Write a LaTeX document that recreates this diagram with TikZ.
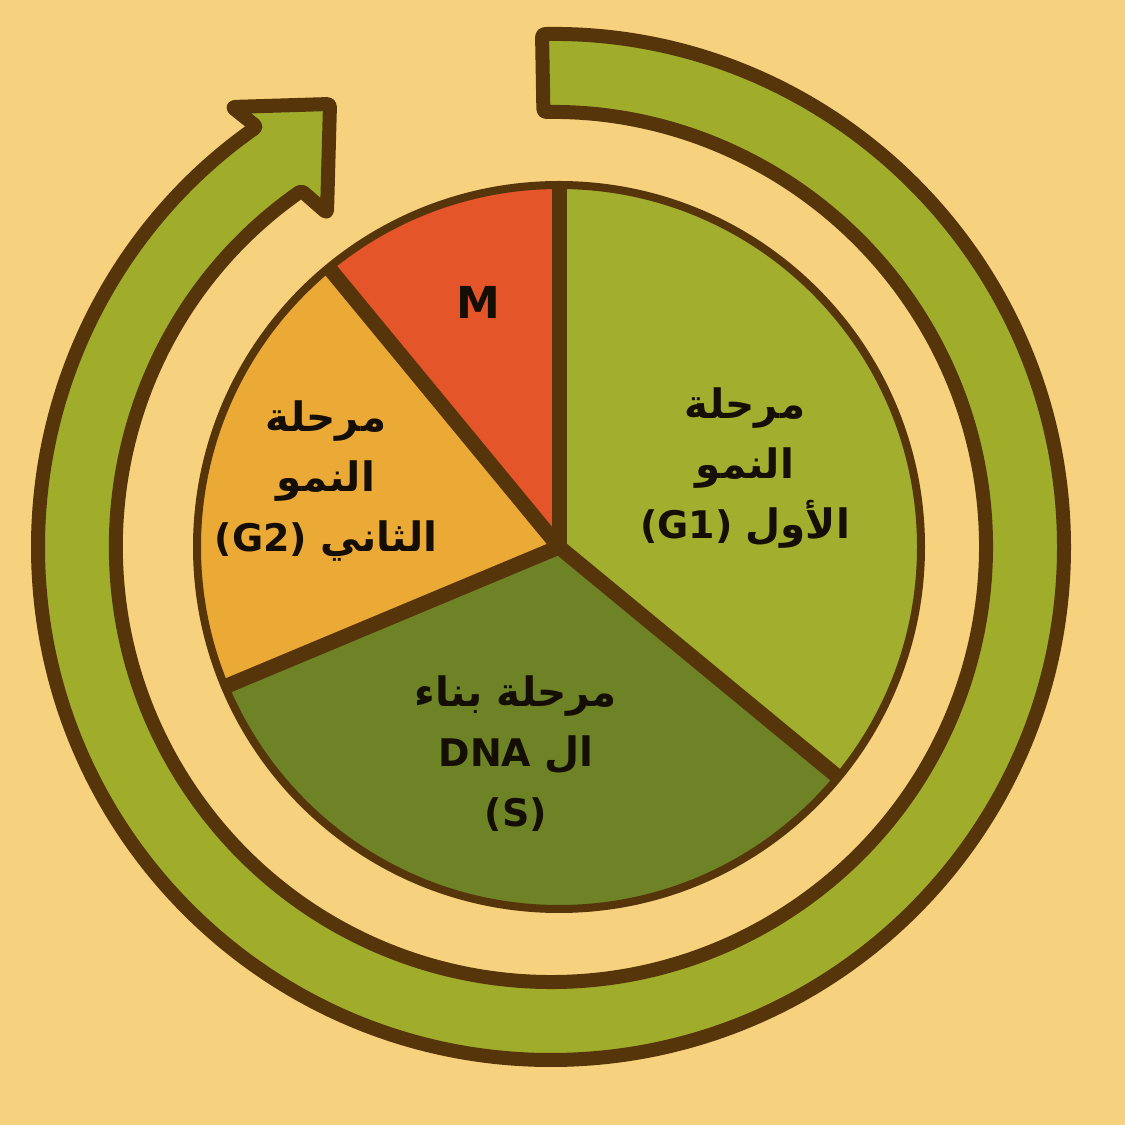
\documentclass[tikz,border=0pt]{standalone}
\usepackage{fontspec}
\TeXXeTstate=1
\setmainfont{DejaVu Sans}
\newfontfamily\arabicfont[Script=Arabic]{DejaVu Sans}
\usetikzlibrary{calc}
\definecolor{bgc}{HTML}{F7D27E}
\definecolor{ringg}{HTML}{A0AD2B}
\definecolor{gone}{HTML}{A2AE2D}
\definecolor{sdark}{HTML}{6D8325}
\definecolor{gtwo}{HTML}{EBAA35}
\definecolor{mred}{HTML}{E4552A}
\definecolor{outl}{HTML}{553509}
\definecolor{txt}{HTML}{140E05}
\newcommand{\arw}[1]{{\fontsize{40.5}{60}\selectfont\beginR #1\endR}}
\begin{document}
\begin{tikzpicture}[x=1pt,y=1pt,
  ringstyle/.style={fill=ringg,draw=outl,line width=14pt,line join=round,rounded corners=3pt},
  divline/.style={draw=outl,line width=15pt},
  pieedge/.style={draw=outl,line width=8pt},
  lbl/.style={text=txt,align=center,font=\arabicfont\bfseries\fontsize{38}{60}\selectfont,inner sep=0pt},
  mlbl/.style={text=txt,font=\bfseries\fontsize{44}{50}\selectfont,inner sep=0pt}]
\fill[bgc] (0,0) rectangle (1125,1125);
\useasboundingbox (0,0) rectangle (1125,1125);
% ring arrow
\coordinate (C) at (551,578);
\draw[ringstyle] ([shift={(91:513)}]C) arc[start angle=91,end angle=-235,radius=513]
  -- (232,1018) -- (330,1021) -- (327,912)
  -- ([shift={(125:435)}]C) arc[start angle=125,end angle=451,radius=435] -- cycle;
% pie
\coordinate (P) at (559,578);
\def\rp{362}
\fill[gone] (P) -- ([shift={(90:\rp)}]P) arc[start angle=90,end angle=-39.5,radius=\rp] -- cycle;
\fill[sdark] (P) -- ([shift={(-39.5:\rp)}]P) arc[start angle=-39.5,end angle=-157.3,radius=\rp] -- cycle;
\fill[gtwo] (P) -- ([shift={(-157.3:\rp)}]P) arc[start angle=-157.3,end angle=-230.5,radius=\rp] -- cycle;
\fill[mred] (P) -- ([shift={(129.5:\rp)}]P) arc[start angle=129.5,end angle=90,radius=\rp] -- cycle;
\draw[pieedge] (P) circle (\rp);
\coordinate (eA) at ([shift={(90:\rp)}]P);
\coordinate (eB) at ([shift={(-39.5:\rp)}]P);
\coordinate (eC) at ([shift={(-157.3:\rp)}]P);
\coordinate (eD) at ([shift={(129.5:\rp)}]P);
\draw[divline] (P) -- (eA);
\draw[divline] (P) -- (eB);
\draw[divline] (P) -- (eC);
\draw[divline] (P) -- (eD);
\fill[outl] (P) circle (8);
% labels
\node[lbl] (g1) at (745,657) {\arw{مرحلة}\\\arw{النمو}\\(G1) \arw{الأول}};
\node[lbl] (g2) at (326,644) {\arw{مرحلة}\\\arw{النمو}\\(G2) \arw{الثاني}};
\node[lbl] (s) at (516,371) {\arw{مرحلة بناء}\\DNA \arw{ال}\\(S)};
\node[mlbl] (m) at (478,823) {M};
\end{tikzpicture}
\end{document}
